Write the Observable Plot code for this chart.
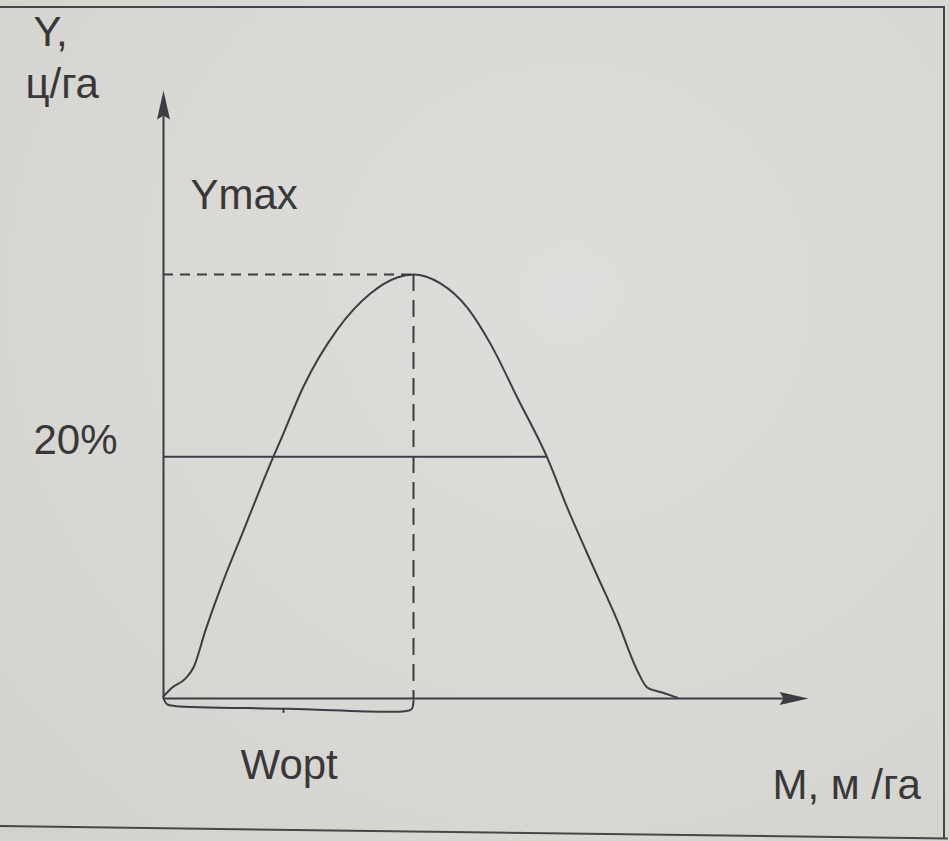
<!DOCTYPE html>
<html>
<head>
<meta charset="utf-8">
<script src="https://cdn.jsdelivr.net/npm/d3@7"></script>
<script src="https://cdn.jsdelivr.net/npm/@observablehq/plot@0.6"></script>
<style>
  html, body { margin: 0; padding: 0; width: 949px; height: 841px; overflow: hidden; background: #d9d8d3; }
  #wrap { position: relative; width: 949px; height: 841px;
    background: radial-gradient(ellipse at 60% 35%, #dedddb 0%, #d9d8d4 55%, #d3d2cd 100%); }
  .frame { position: absolute; left: -10px; top: 6px; width: 955px; height: 832px; box-sizing: border-box;
    border-top: 2px solid #46464b; border-right: 2px solid #46464b; }
  .fbottom { position: absolute; left: -4px; top: 825px; width: 952px; height: 0;
    border-top: 2px solid #46464b; transform-origin: 0 0; transform: rotate(0.75deg); }
  #chart { position: absolute; left: 0; top: 0; }
</style>
</head>
<body>
<div id="wrap">
  <div class="frame"></div>
  <div class="fbottom"></div>
  <div id="chart"></div>
</div>
<script>
// ---- data (x: M, relative units; y: Y, % of Ymax) ----
const curveM = [0, 1.4, 3.5, 4.8, 6.7, 9.4, 12.8, 15.8, 17.6, 18.7, 22.4, 27.8, 33.1, 37.4, 40,
                44.3, 48.6, 52.3, 56.6, 61.4, 64.6, 68.8, 72.6, 75.8, 77.4, 79.8, 82.2];
const curveY = [0.5, 2.6, 4.7, 7.3, 16.0, 27.1, 39.6, 50.7, 57.1, 60.8, 73.6, 87.0, 95.5, 99.3, 100,
                97.9, 92.2, 83.7, 71.0, 56.8, 45.0, 30.9, 18.4, 6.6, 2.6, 1.4, 0.2];
const yMax = 100;          // Ymax level
const wOpt = 40;           // Wopt position
const level20 = 57;        // "20%" level line
const level20End = 61.4;   // where the 20% line meets the right branch
const axisTopY = 143.4;    // y-axis arrow tip
const axisEndM = 103.2;    // x-axis arrow tip
const braceM = [0, 0.6, 2, 20, 38.6, 39.7, 40];
const braceY = [0, -1.4, -1.8, -2.4, -3.0, -2.5, -0.4];
const braceTickM = 19.2;
const braceTickY = [-2.4, -3.5];
const labels = ["Y,", "ц/га", "Ymax", "20%", "Wopt", "M, м /га"];

// ---- styles ----
const ink = "#3c3c43";
const textInk = "#38383b";
const fs = 42;

function arrowSymbol(dir) {
  return {
    draw(ctx, size) {
      const r = Math.sqrt(size / Math.PI);
      const L = 2.9 * r, w = 0.65 * r, n = 2.5 * r;
      if (dir === "up") {
        ctx.moveTo(0, 0); ctx.lineTo(-w, L); ctx.lineTo(0, n); ctx.lineTo(w, L); ctx.closePath();
      } else {
        ctx.moveTo(0, 0); ctx.lineTo(-L, -w); ctx.lineTo(-n, 0); ctx.lineTo(-L, w); ctx.closePath();
      }
    }
  };
}

const curve = curveM.map((m, i) => ({m, y: curveY[i]}));
const brace = braceM.map((m, i) => ({m, y: braceY[i]}));

const txt = (label, x, y, dx, dy, anchor) =>
  Plot.text([label], {x: () => x, y: () => y, text: d => d, dx, dy, textAnchor: anchor,
    lineAnchor: "bottom", fontSize: fs, fill: textInk, fontFamily: "Liberation Sans, Arial, sans-serif"});

const chart = Plot.plot({
  width: 949,
  height: 841,
  marginLeft: 163,
  marginRight: 141,
  marginTop: 90,
  marginBottom: 143,
  x: {domain: [0, axisEndM], axis: null},
  y: {domain: [0, axisTopY], axis: null},
  style: {background: "transparent", overflow: "visible", fontFamily: "Liberation Sans, Arial, sans-serif"},
  marks: [
    // axes
    Plot.ruleX([0], {y1: 0, y2: axisTopY - 2, stroke: ink, strokeWidth: 2}),
    Plot.ruleY([0], {x1: 0, x2: axisEndM - 2, stroke: ink, strokeWidth: 2}),
    Plot.dot([0], {x: () => 0, y: () => axisTopY, symbol: arrowSymbol("up"), r: 10, fill: ink, stroke: null}),
    Plot.dot([0], {x: () => axisEndM, y: () => 0, symbol: arrowSymbol("right"), r: 10, fill: ink, stroke: null}),
    // Ymax dashed guide lines
    Plot.ruleY([yMax], {x1: 0, x2: wOpt, stroke: ink, strokeWidth: 2, strokeDasharray: "10,7"}),
    Plot.ruleX([wOpt], {y1: yMax, y2: 0, stroke: ink, strokeWidth: 2, strokeDasharray: "17,9"}),
    // 20% line
    Plot.ruleY([level20], {x1: 0, x2: level20End, stroke: ink, strokeWidth: 2}),
    // yield curve
    Plot.line(curve, {x: "m", y: "y", curve: "monotone-x", stroke: ink, strokeWidth: 2}),
    // brace under Wopt
    Plot.line(brace, {x: "m", y: "y", curve: "catmull-rom", stroke: ink, strokeWidth: 2}),
    Plot.ruleX([braceTickM], {y1: braceTickY[0], y2: braceTickY[1], stroke: ink, strokeWidth: 2}),
    // labels
    txt(labels[0], 0, axisTopY, -130, -45, "start"),
    txt(labels[1], 0, axisTopY, -138, 7, "start"),
    txt(labels[2], 0, yMax, 27, -66, "start"),
    txt(labels[3], 0, level20, -46, -3, "end"),
    txt(labels[4], braceTickM, 0, -43, 80, "start"),
    txt(labels[5], axisEndM, 0, -36, 100, "start")
  ]
});
document.getElementById("chart").appendChild(chart);
</script>
</body>
</html>
